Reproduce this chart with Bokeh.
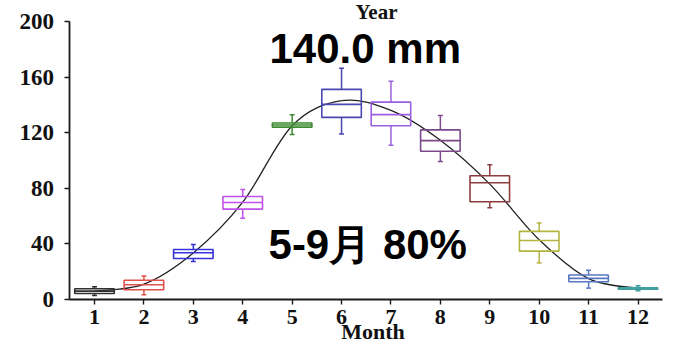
import numpy as np
from bokeh.plotting import figure
from bokeh.models import ColumnDataSource, FixedTicker, Label, Range1d
from bokeh.transform import dodge
from bokeh.embed import file_html
from bokeh.resources import INLINE

# ---- data ----
months = [1, 2, 3, 4, 5, 6, 7, 8, 9, 10, 11, 12]
tick_labels = ["1", "2", "3", "4", "5", "6", "7", "8", "9", "10", "11", "12"]
whisker_low = [2.9, 3.4, 27.3, 58.5, 118.7, 119.0, 111.0, 99.3, 66.0, 26.3, 8.2, 6.3]
q1 = [4.3, 7.0, 29.5, 65.0, 124.0, 131.0, 125.0, 106.7, 70.3, 34.8, 12.8, 7.5]
median = [6.0, 10.6, 33.6, 69.8, 125.5, 140.4, 133.0, 114.3, 84.0, 42.5, 15.2, 8.0]
q3 = [7.7, 13.8, 36.0, 74.1, 127.0, 151.2, 142.0, 122.0, 89.0, 49.0, 17.6, 8.5]
whisker_high = [9.2, 16.9, 39.6, 79.2, 132.9, 166.4, 157.0, 132.4, 97.0, 55.0, 21.0, 9.9]
curve = [6.0, 11.0, 33.5, 70.0, 125.0, 143.0, 136.0, 114.5, 83.0, 43.0, 15.0, 8.0]
colors = ["#303030", "#e0504a", "#3434d8", "#c050e8", "#3c8c30", "#4848b0",
          "#9a60e0", "#7a4a8c", "#8c3c3c", "#b4b440", "#5878c0", "#40a0a0"]
y_ticks = [0, 40, 80, 120, 160, 200]
annual_text = "140.0 mm"
season_text = "5-9月 80%"
x_title = "Month"
top_title = "Year"

src = ColumnDataSource(dict(m=months, lo=whisker_low, q1=q1, med=median,
                            q3=q3, hi=whisker_high, c=colors))

# the frame covers the whole canvas; axes are drawn at fixed locations
p = figure(width=676, height=345, output_backend="svg", toolbar_location=None,
           x_range=Range1d(-0.9025, 12.779), y_range=Range1d(-33.09, 215.1),
           min_border=0)
p.title.visible = False
p.outline_line_color = None
p.grid.visible = False
p.background_fill_color = "white"

# smooth fitted curve (Catmull-Rom bezier through the monthly curve values)
xs = np.array(months, dtype=float)
ys = np.array(curve, dtype=float)
xp = np.concatenate([[xs[0]], xs, [xs[-1]]])
yp = np.concatenate([[ys[0]], ys, [ys[-1]]])
bz = dict(x0=xs[:-1], y0=ys[:-1], x1=xs[1:], y1=ys[1:],
          cx0=xs[:-1] + (xp[2:-1] - xp[:-3]) / 6, cy0=ys[:-1] + (yp[2:-1] - yp[:-3]) / 6,
          cx1=xs[1:] - (xp[3:] - xp[1:-2]) / 6, cy1=ys[1:] - (yp[3:] - yp[1:-2]) / 6)
p.bezier(x0="x0", y0="y0", x1="x1", y1="y1", cx0="cx0", cy0="cy0", cx1="cx1", cy1="cy1",
         source=ColumnDataSource(bz), line_color="#222222", line_width=1.3)

# whiskers
p.segment(x0="m", y0="q3", x1="m", y1="hi", source=src, line_color="c", line_width=1.5)
p.segment(x0="m", y0="q1", x1="m", y1="lo", source=src, line_color="c", line_width=1.5)
p.segment(x0=dodge("m", -0.05), y0="hi", x1=dodge("m", 0.05), y1="hi", source=src,
          line_color="c", line_width=1.5)
p.segment(x0=dodge("m", -0.05), y0="lo", x1=dodge("m", 0.05), y1="lo", source=src,
          line_color="c", line_width=1.5)
# boxes
p.vbar(x="m", width=0.8, bottom="q1", top="q3", source=src, fill_color=None,
       line_color="c", line_width=1.6)
# medians
p.segment(x0=dodge("m", -0.4), y0="med", x1=dodge("m", 0.4), y1="med", source=src,
          line_color="c", line_width=1.6)

# axes
for ax in (p.xaxis[0], p.yaxis[0]):
    ax.axis_line_color = "#1a1a1a"
    ax.axis_line_width = 1.8
    ax.major_tick_line_color = "#1a1a1a"
    ax.major_tick_line_width = 1.4
    ax.major_tick_out = 5
    ax.major_tick_in = 0
    ax.minor_tick_line_color = None
    ax.major_label_text_font = "Liberation Serif"
    ax.major_label_text_font_style = "bold"
    ax.major_label_text_color = "#111111"

p.xaxis.fixed_location = 0
p.xaxis.bounds = (0.485, 12.5)
p.xaxis.ticker = FixedTicker(ticks=months)
p.xaxis.major_label_overrides = {m: t for m, t in zip(months, tick_labels)}
p.xaxis.major_label_standoff = 5
p.xaxis.major_label_text_font_size = "22px"
p.yaxis.fixed_location = 0.485
p.yaxis.bounds = (0, 200)
p.yaxis.ticker = FixedTicker(ticks=y_ticks)
p.yaxis.major_label_standoff = 10
p.yaxis.major_label_text_font_size = "23px"

# texts
p.add_layout(Label(x=4.542, y=167.6, y_offset=18, text=annual_text,
                   text_font="Liberation Sans", text_font_style="bold",
                   text_font_size="42px", text_color="black", text_baseline="alphabetic"))
p.add_layout(Label(x=4.522, y=26.6, y_offset=18, text=season_text,
                   text_font="Liberation Sans", text_font_style="bold",
                   text_font_size="42px", text_color="black", text_baseline="alphabetic"))
p.add_layout(Label(x=6.637, y=-29.5, y_offset=9.5, text=x_title,
                   text_font="Liberation Serif", text_font_style="bold",
                   text_font_size="22px", text_color="#111111",
                   text_align="center", text_baseline="alphabetic"))
p.add_layout(Label(x=6.707, y=200.7, y_offset=9, text=top_title,
                   text_font="Liberation Serif", text_font_style="bold",
                   text_font_size="21px", text_color="#111111",
                   text_align="center", text_baseline="alphabetic"))

open("out.html", "w").write(file_html(p, INLINE))
